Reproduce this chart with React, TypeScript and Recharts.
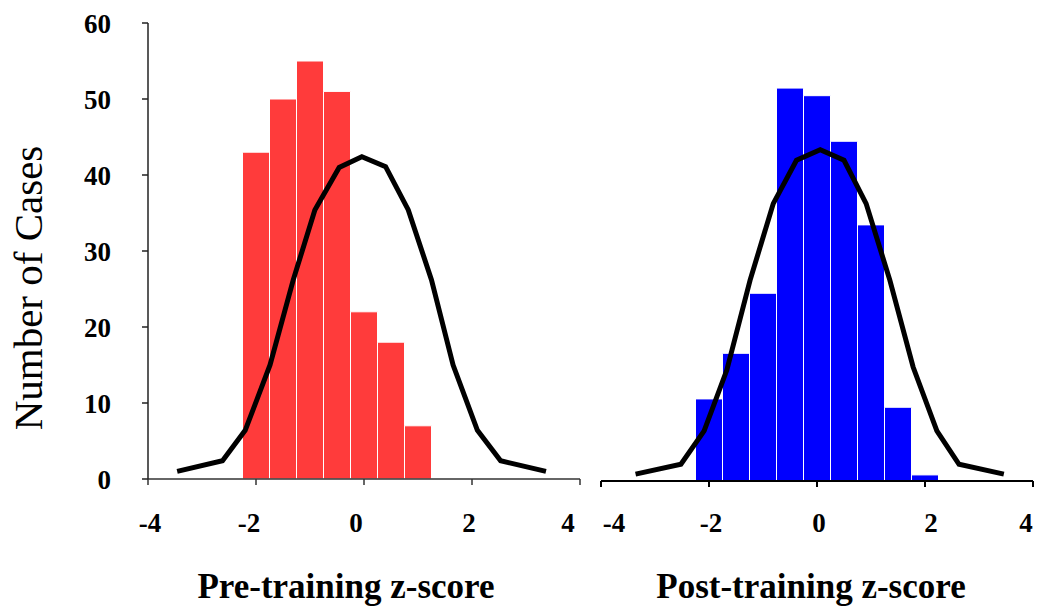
import { ComposedChart, Bar, Line, XAxis, YAxis } from "recharts";

const FONT = "'Times New Roman', 'Liberation Serif', serif";

// histogram bins (centre of each 0.5-wide bin) and counts
const preCenters = [-2, -1.5, -1, -0.5, 0, 0.5, 1];
const preCounts = [43, 50, 55, 51, 22, 18, 7];

const postCenters = [-2, -1.5, -1, -0.5, 0, 0.5, 1, 1.5, 2];
const postCounts = [10.8, 16.8, 24.7, 51.7, 50.7, 44.7, 33.7, 9.7, 0.8];

// fitted normal curves
const preCurveZ = [-3.46, -2.62, -2.2, -1.74, -1.31, -0.91, -0.46, -0.04, 0.4, 0.82, 1.25, 1.65, 2.1, 2.53, 3.37];
const preCurveFit = [1.0, 2.4, 6.4, 15, 26.2, 35.4, 41, 42.4, 41.1, 35.4, 26.2, 15, 6.4, 2.4, 1.0];

const postCurveZ = [-3.36, -2.52, -2.09, -1.67, -1.24, -0.81, -0.38, 0.06, 0.5, 0.91, 1.35, 1.78, 2.22, 2.63, 3.46];
const postCurveFit = [0.9, 2.2, 6.6, 14.6, 26.4, 36.5, 42.2, 43.6, 42.2, 36.5, 26.4, 15.0, 6.6, 2.2, 0.9];

const yTicks = [0, 10, 20, 30, 40, 50, 60];
const zTicks = [-4, -2, 0, 2, 4];

const preBars = preCenters.map((z, i) => ({ z, count: preCounts[i] }));
const postBars = postCenters.map((z, i) => ({ z, count: postCounts[i] }));
const preCurve = preCurveZ.map((z, i) => ({ z, fit: preCurveFit[i] }));
const postCurve = postCurveZ.map((z, i) => ({ z, fit: postCurveFit[i] }));

const XTick = ({ x, y, payload, index, nudge }: any) => (
  <text
    x={x + (nudge[index] || 0)}
    y={y}
    dy="0.71em"
    textAnchor="middle"
    fontSize={27}
    fontWeight="bold"
    fontFamily={FONT}
    fill="#000"
  >
    {payload.value}
  </text>
);

const Title = ({ viewBox, title, dx }: any) => {
  const { x, y, width, height } = viewBox;
  return (
    <text
      x={x + width / 2 + dx}
      y={y + height - 9}
      textAnchor="middle"
      fontSize={35}
      fontWeight="bold"
      fontFamily={FONT}
      fill="#000"
    >
      {title}
    </text>
  );
};

const YTitle = ({ viewBox }: any) => {
  const x = viewBox.x + 42;
  const y = viewBox.y + viewBox.height / 2 + 37;
  return (
    <text
      x={x}
      y={y}
      transform={`rotate(-90, ${x}, ${y})`}
      textAnchor="middle"
      fontSize={41}
      fontFamily={FONT}
      fill="#000"
    >
      Number of Cases
    </text>
  );
};

export default function App() {
  return (
    <div style={{ position: "absolute", left: 0, top: 0, width: 1038, height: 607, background: "#fff" }}>
      {/* === Pre-training === */}
      <div style={{ position: "absolute", left: 0, top: 0 }}>
        <ComposedChart
          width={600}
          height={607}
          data={preBars}
          margin={{ top: 23, right: 20, bottom: 0, left: 0 }}
          barCategoryGap={0}
          barGap={0}
        >
          <XAxis
            xAxisId="z"
            dataKey="z"
            type="number"
            domain={[-4, 4]}
            ticks={zTicks}
            interval={0}
            allowDataOverflow
            height={128}
            tickSize={6}
            tickMargin={28}
            stroke="#333"
            strokeWidth={1.5}
            tick={(p: any) => <XTick {...p} nudge={[2, -7, -8, -3, -12]} />}
            label={{ content: (p: any) => <Title {...p} title="Pre-training z-score" dx={-18} /> }}
          />
          <XAxis xAxisId="bin" dataKey="z" type="number" domain={[-4, 4]} hide height={0} allowDataOverflow />
          <YAxis
            domain={[0, 60]}
            ticks={yTicks}
            interval={0}
            width={148}
            tickSize={6}
            tickMargin={31}
            stroke="#222"
            strokeWidth={1.5}
            tick={{ fill: "#000", fontSize: 27, fontWeight: "bold", fontFamily: FONT }}
            label={{ content: (p: any) => <YTitle {...p} /> }}
          />
          <Bar xAxisId="bin" dataKey="count" fill="#ff3b3b" stroke="#fff" strokeWidth={1} isAnimationActive={false} />
          <Line
            xAxisId="z"
            data={preCurve}
            dataKey="fit"
            type="linear"
            stroke="#000"
            strokeWidth={5}
            dot={false}
            activeDot={false}
            isAnimationActive={false}
          />
        </ComposedChart>
      </div>

      {/* === Post-training === */}
      <div style={{ position: "absolute", left: 600, top: 0 }}>
        <ComposedChart
          width={438}
          height={607}
          data={postBars}
          margin={{ top: 25, right: 5, bottom: 0, left: 1 }}
          barCategoryGap={0}
          barGap={0}
        >
          <XAxis
            xAxisId="z"
            dataKey="z"
            type="number"
            domain={[-4, 4]}
            ticks={zTicks}
            interval={0}
            allowDataOverflow
            height={126}
            tickSize={6}
            tickMargin={26}
            stroke="#000"
            strokeWidth={2}
            tick={(p: any) => <XTick {...p} nudge={[13, 2, 2, 6, -7]} />}
            label={{ content: (p: any) => <Title {...p} title="Post-training z-score" dx={-6} /> }}
          />
          <XAxis xAxisId="bin" dataKey="z" type="number" domain={[-4, 4]} hide height={0} allowDataOverflow />
          <YAxis hide domain={[0, 60]} />
          <Bar xAxisId="bin" dataKey="count" fill="#0000ff" stroke="#fff" strokeWidth={1} isAnimationActive={false} />
          <Line
            xAxisId="z"
            data={postCurve}
            dataKey="fit"
            type="linear"
            stroke="#000"
            strokeWidth={5}
            dot={false}
            activeDot={false}
            isAnimationActive={false}
          />
        </ComposedChart>
      </div>
    </div>
  );
}
